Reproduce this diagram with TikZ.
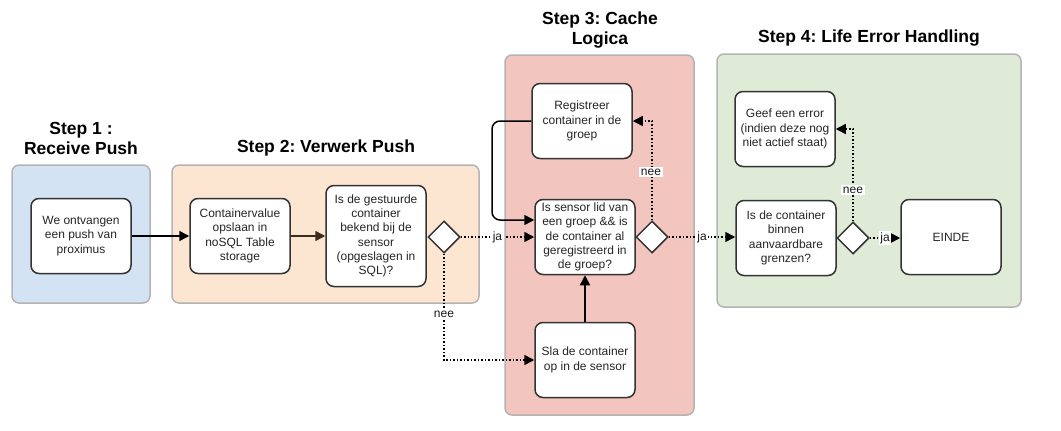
\documentclass[tikz,border=0pt]{standalone}
\usepackage{fontspec}
\setmainfont{Liberation Sans}
\usetikzlibrary{arrows.meta,shapes.geometric}
\definecolor{laneblue}{HTML}{D4E3F4}
\definecolor{laneorange}{HTML}{FCE6D1}
\definecolor{lanered}{HTML}{F2C5BF}
\definecolor{lanegreen}{HTML}{DFEBD7}
\definecolor{laneborder}{HTML}{B3B3B3}
\definecolor{boxborder}{HTML}{333333}
\definecolor{brownline}{HTML}{3D2B1F}
\frenchspacing
\tikzset{
  lane/.style={draw=laneborder,line width=1.5pt,rounded corners=7pt},
  task/.style={draw=boxborder,fill=white,line width=1.5pt,rounded corners=8pt,
    minimum width=100pt,minimum height=75pt,align=center,
    font=\fontsize{12}{14.3}\selectfont,inner sep=2pt,text=black!85},
  gate/.style={diamond,draw=boxborder,fill=white,line width=1.5pt,
    minimum width=32pt,minimum height=32pt,inner sep=0pt},
  title/.style={font=\fontsize{17.5}{20}\selectfont\bfseries,align=center},
  tip/.style={-{Triangle[length=10pt,width=10pt]}},
  solidflow/.style={tip,line width=1.5pt,black},
  dotflow/.style={tip,line width=1.5pt,black,dotted},
  lbl/.style={fill=white,font=\fontsize{12}{13}\selectfont,inner sep=1.5pt,text=black!90}
}
\begin{document}
\begin{tikzpicture}[x=1pt,y=-1pt]
\useasboundingbox (0,0) rectangle (1061,431);
% lanes
\draw[lane,fill=laneblue] (12,165) rectangle (150,303);
\draw[lane,fill=laneorange] (172,165) rectangle (479,303);
\draw[lane,fill=lanered] (505,55) rectangle (694,415);
\draw[lane,fill=lanegreen] (717,54) rectangle (1021,307);
% titles
\node[title] (t1) at (81,138) {Step 1 :\\Receive Push};
\node[title] (t2) at (326,148) {Step 2: Verwerk Push};
\node[title] (t3) at (600,30) {Step 3: Cache\\Logica};
\node[title] (t4) at (869,38) {Step 4: Life Error Handling};
% nodes
\node[task] (a) at (81,236) {We ontvangen\\een push van\\proximus};
\node[task] (b) at (240,236) {Containervalue\\opslaan in\\noSQL Table\\storage};
\node[task,minimum height=101pt] (c) at (376,236) {Is de gestuurde\\container\\bekend bij de\\sensor\\(opgeslagen in\\SQL)?};
\node[gate] (d1) at (444,237) {};
\node[task] (reg) at (582,121) {Registreer\\container in de\\groep};
\node[task] (lid) at (585,237) {Is sensor lid van\\een groep \&\& is\\de container al\\geregistreerd in\\de groep?};
\node[task] (sla) at (585,360) {Sla de container\\op in de sensor};
\node[gate] (d2) at (652,237) {};
\node[task] (err) at (785,129) {Geef een error\\(indien deze nog\\niet actief staat)};
\node[task] (bin) at (786,238) {Is de container\\binnen\\aanvaardbare\\grenzen?};
\node[gate] (d3) at (853,238) {};
\node[task] (einde) at (951,237) {EINDE};
\coordinate (regin) at (lid.west |- 0,220);
% edges
\draw[solidflow] (a) -- (b);
\draw[solidflow,brownline] (b) -- (c);
\draw[dotflow] (d1.east) -- node[lbl] {ja} (lid.west |- d1.east);
\draw[dotflow] (d1.south) -- (444,360) -- (sla.west |- 0,360);
\node[lbl] (n1) at (444,314) {nee};
\draw[solidflow] (sla) -- (lid);
\draw[solidflow,rounded corners=8pt] (reg.west) -- (492,121) -- (492,220) -- (regin);
\draw[dotflow] (d2.north) -- (652,121) -- (reg.east);
\node[lbl] (n2) at (651,172) {nee};
\draw[dotflow] (d2.east) -- node[lbl] {ja} (bin.west |- d2.east);
\draw[dotflow] (d3.north) -- (853,129) -- (err.east);
\node[lbl] (n3) at (853,190) {nee};
\draw[dotflow] (d3.east) -- node[lbl] {ja} (einde.west |- d3.east);
\end{tikzpicture}
\end{document}
